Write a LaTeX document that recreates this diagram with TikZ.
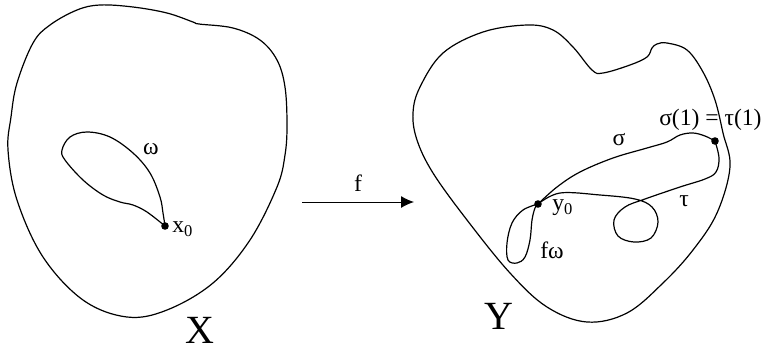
\documentclass[tikz,border=0pt]{standalone}
\usepackage{fontspec}
\setmainfont{Liberation Serif}
\usepackage{tikz}
\usetikzlibrary{arrows.meta,positioning}

\begin{document}
\begin{tikzpicture}[
        x=0.5pt, y=-0.5pt,
        blob/.style={draw, line width=0.6pt, line join=round},
        loopline/.style={draw, line width=0.6pt, line join=round},
        dot/.style={circle, fill, inner sep=0pt, minimum size=3.8pt},
        lbl/.style={inner sep=0pt, font=\fontsize{11.8}{14}\selectfont},
        spacename/.style={inner sep=0pt, font=\fontsize{20}{24}\selectfont},
        line/.style={draw, line width=0.5pt, -{Latex[length=6.5pt,width=6pt]}}
    ]
    \useasboundingbox (0,0) rectangle (761,349);
    % space X
    \path [blob] plot[smooth cycle, tension=0.6] coordinates {
        (33,43) (50,25) (77,10) (100,5) (133,7) (167,13) (193,22) (199,24)
        (233,28) (260,40) (277,60) (285,87) (287,125) (285,155) (277,187)
        (250,240) (213,283) (167,310) (127,317) (83,300) (43,257) (17,200)
        (8,150) (11,117) (17,83)};
    \node [dot] (x0) at (165,226) {};
    \path [loopline] plot[smooth, tension=0.6] coordinates {
        (x0) (163,213) (160,197) (150,173) (133,153) (110,137) (87,132)
        (70,137) (62,150) (65,160) (83,180) (103,195) (120,202) (133,205)
        (147,212) (x0)};
    \node [lbl] (omega) at (151,149) {ω};
    \node [lbl, anchor=west] (x0lbl) at (172,229) {x\textsubscript{0}};
    \node [spacename] (X) at (200,330) {X};
    % map f
    \coordinate (fstart) at (302,202);
    \coordinate (fend) at (414,202);
    \path [line] (fstart) -- node[lbl, above=5pt] (flbl) {f} (fend);
    % space Y
    \path [blob] plot[smooth cycle, tension=0.6] coordinates {
        (413,113) (420,87) (443,53) (483,32) (527,25) (553,30) (573,47)
        (592,70) (603,73) (630,65) (647,57) (652,48) (657,44) (667,43)
        (687,50) (703,72) (715,100) (723,133) (730,167) (717,213) (693,250)
        (663,283) (627,313) (587,322) (547,307) (510,273) (467,220)
        (433,173) (417,140)};
    \node [dot] (y0) at (538,204) {};
    \node [dot] (s1) at (715,141) {};
    \path [loopline] plot[smooth, tension=0.6] coordinates {
        (y0) (523,210) (512,223) (507,243) (508,260) (517,263) (525,257)
        (530,240) (532,220) (535,208) (y0)};
    \path [loopline] plot[smooth, tension=0.6] coordinates {
        (y0) (557,187) (580,172) (613,158) (647,148) (667,142) (680,135)
        (693,133) (705,136) (s1)};
    \path [loopline] plot[smooth, tension=0.6] coordinates {
        (s1) (719,158) (716,172) (705,179) (680,187) (645,199) (625,207)
        (614,220) (618,236) (634,242) (651,238) (658,222) (652,207)
        (635,199) (600,195) (560,193) (y0)};
    \node [lbl, anchor=west] (y0lbl) at (552,208) {y\textsubscript{0}};
    \node [lbl] (sigma) at (619,140) {σ};
    \node [lbl] (tau) at (684,201) {τ};
    \node [lbl] (fomega) at (552,250) {fω};
    \node [lbl, anchor=east] (ends) at (762,120) {σ(1) = τ(1)};
    \node [spacename] (Y) at (499,316) {Y};
\end{tikzpicture}
\end{document}
